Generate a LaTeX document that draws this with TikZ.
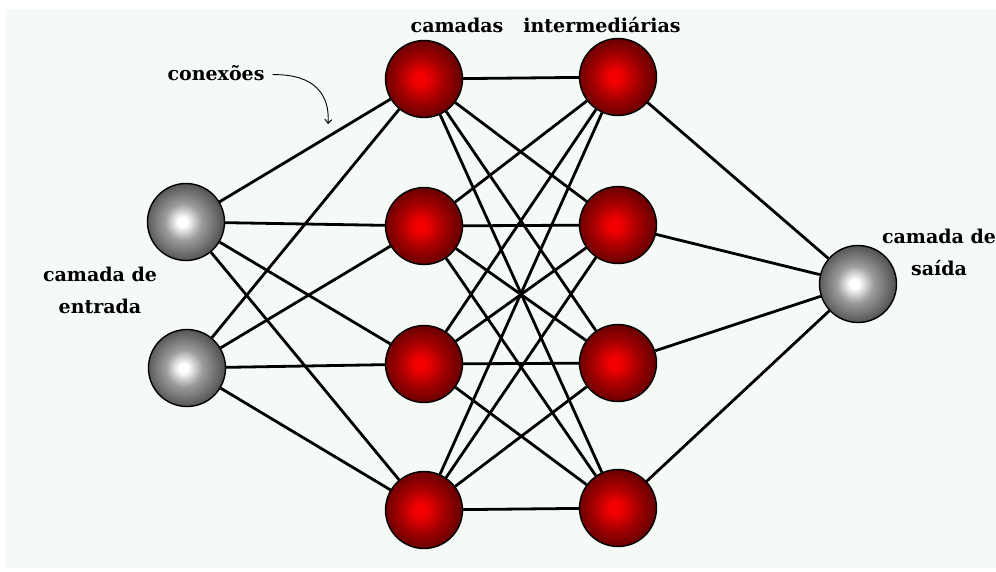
\documentclass[tikz,border=0pt]{standalone}
\usepackage{fontspec}
\setmainfont{DejaVu Serif}
\usetikzlibrary{backgrounds,arrows.meta}
\definecolor{bgc}{HTML}{F5FAF7}
\definecolor{redc}{HTML}{F20000}
\definecolor{redd}{HTML}{6A0000}
\definecolor{redm}{HTML}{A80000}
\definecolor{grayc}{HTML}{FFFFFF}
\definecolor{graym}{HTML}{9C9C9C}
\definecolor{grayd}{HTML}{555555}
\pgfdeclareradialshading{redball}{\pgfpoint{-2.5bp}{0bp}}{color(0bp)=(redc); color(4bp)=(redc); color(14bp)=(redm); color(25bp)=(redd); color(50bp)=(redd)}
\pgfdeclareradialshading{grayball}{\pgfpoint{-2.5bp}{0bp}}{color(0bp)=(grayc); color(3bp)=(grayc); color(12bp)=(graym); color(25bp)=(grayd); color(50bp)=(grayd)}
\tikzset{
  neuron/.style={circle, draw=black, line width=1.4pt, minimum size=77pt, inner sep=0pt},
  rneuron/.style={neuron, shading=redball},
  gneuron/.style={neuron, shading=grayball},
  conn/.style={line width=2.8pt, draw=black},
  lbl/.style={font=\fontsize{19}{32}\selectfont\bfseries, inner sep=0pt, anchor=base},
}
\begin{document}
\begin{tikzpicture}[x=1pt,y=-1pt]
\useasboundingbox (0,0) rectangle (996,571);
% nodes
\node[gneuron] (i1) at (186,222) {};
\node[gneuron] (i2) at (187,368) {};
\node[rneuron] (a1) at (424,79) {};
\node[rneuron] (a2) at (424,226) {};
\node[rneuron] (a3) at (424,364) {};
\node[rneuron] (a4) at (424,510) {};
\node[rneuron] (b1) at (618,77) {};
\node[rneuron] (b2) at (618,225) {};
\node[rneuron] (b3) at (618,363) {};
\node[rneuron] (b4) at (618,508) {};
\node[gneuron] (o) at (858,284) {};
% labels
\node[lbl] (t1) at (457,32) {camadas};
\node[lbl] (t2) at (602,32) {intermediárias};
\node[lbl] (conx) at (216,80) {conexões};
\node[lbl, align=center] (inl) at (100,313) {camada de\\entrada};
\node[lbl, align=center] (outl) at (939,275) {camada de\\saída};
\coordinate (arrtip) at (328,124);
\draw[line width=0.9pt, -{Straight Barb[length=4pt,width=7pt]}]
  ([xshift=8pt,yshift=-2pt]conx.east) .. controls (315,74) and (330,95) .. (arrtip);
\begin{scope}[on background layer]
\fill[white] (0,0) rectangle (996,571);
\fill[bgc] (6,9) rectangle (996,568);
\foreach \s in {i1,i2}{\foreach \t in {a1,a2,a3,a4}{\draw[conn] (\s) -- (\t);}}
\foreach \s in {a1,a2,a3,a4}{\foreach \t in {b1,b2,b3,b4}{\draw[conn] (\s) -- (\t);}}
\foreach \s in {b1,b2,b3,b4}{\draw[conn] (\s) -- (o);}
\end{scope}
\end{tikzpicture}
\end{document}
